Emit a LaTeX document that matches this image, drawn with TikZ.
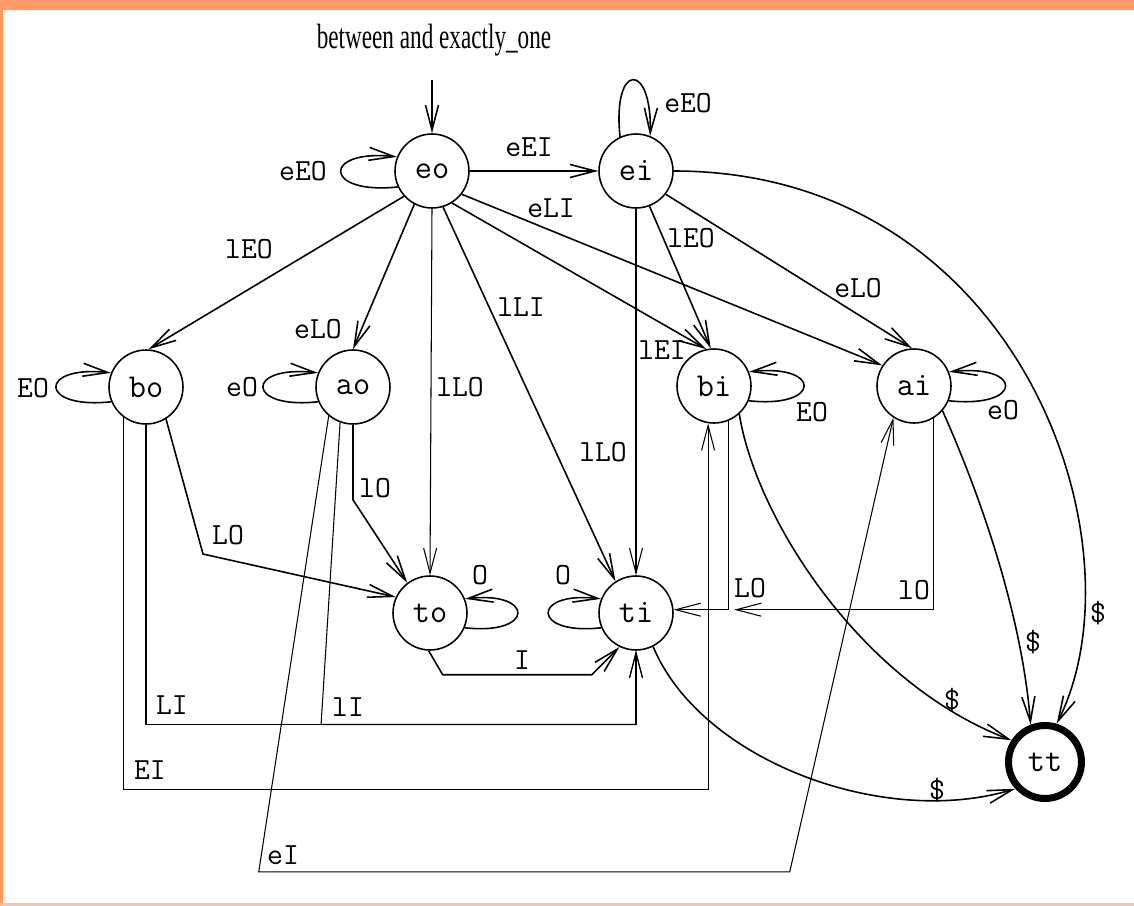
\documentclass[tikz,border=0pt]{standalone}
\usepackage{fontspec}
\setmainfont{Liberation Serif}
\usetikzlibrary{arrows.meta,calc}
\tikzstyle{line} = [draw, -{Straight Barb[length=.5cm,width=.26cm]}, line width=.9pt, fill=none]
\definecolor{framecol}{RGB}{255,153,102}

\begin{document}
\begin{tikzpicture}[
    x=0.02cm, y=-0.02cm,
    state/.style={
      draw,
      circle,
      minimum size=1.48cm,
      inner sep=0pt,
      line width=.9pt,
      font=\fontsize{19}{19}\selectfont\ttfamily
    },
    final/.style={
      state,
      line width=4pt,
      minimum size=1.46cm
    },
    lbl/.style={
      inner sep=0pt,
      font=\fontsize{17.5}{18}\selectfont\ttfamily
    },
    thinline/.style={
      line,
      line width=.6pt
    }
  ]

  % page frame
  \fill[framecol] (0,0) rectangle (1134,10);
  \fill[framecol] (0,0) rectangle (3,906);
  \fill[framecol!60] (0,903) rectangle (1134,906);
  \useasboundingbox (0,0) rectangle (1134,906);

  \node[font=\fontsize{20}{20}\selectfont] (title) at (434,40) {\scalebox{.66}[1]{between and exactly\_one}};

  % states
  \node[state] (eo) at (432,171) {eo};
  \node[state] (ei) at (636,171) {ei};
  \node[state] (bo) at (146,387) {bo};
  \node[state] (ao) at (353,387) {ao};
  \node[state] (bi) at (714,386) {bi};
  \node[state] (ai) at (914,386) {ai};
  \node[state] (to) at (430,613) {to};
  \node[state] (ti) at (636,613) {ti};
  \node[final] (tt) at (1045,762) {tt};

  \coordinate (start) at (432,80);
  \draw[line] (start) -- (eo.north);

  % self loops
  \draw[line] (eo.205) .. controls +(-75,8) and +(-75,-8) .. (eo.158);
  \draw[line] (ei.115) .. controls +(-8,-75) and +(2,-75) .. (ei.68);
  \draw[line] (bo.203) .. controls +(-73,8) and +(-73,-8) .. (bo.158);
  \draw[line] (ao.203) .. controls +(-73,8) and +(-73,-8) .. (ao.158);
  \draw[line] (bi.337) .. controls +(73,8) and +(73,-8) .. (bi.22);
  \draw[line] (ai.337) .. controls +(75,8) and +(75,-8) .. (ai.22);
  \draw[line] (to.337) .. controls +(70,8) and +(70,-8) .. (to.22);
  \draw[line] (ti.203) .. controls +(-70,8) and +(-70,-8) .. (ti.158);

  % out of eo and ei
  \draw[line] (eo) -- (ei);
  \draw[line] (eo.222) -- (bo.86);
  \draw[line] (eo.242) -- (ao.90);
  \draw[thinline] (eo.south) -- (to.north);
  \draw[line] (eo.287) -- (ti.123);
  \draw[line] (eo.302) -- (bi.102);
  \draw[line] (eo.322) -- (ai.147);
  \draw[line] (ei.291) -- (bi.95);
  \draw[line] (ei.322) -- (ai.93);
  \draw[thinline] (ei.south) -- (ti.north);

  % into tt
  \draw[line] (ei.east) .. controls +(345,0) and +(90,-180) .. (tt.73);
  \draw[line] (bi.312) .. controls +(17,105) and +(-150,-57) .. (tt.147);
  \draw[line] (ai.319) .. controls +(30,67) and +(-10,-122) .. (tt.111);
  \draw[line] (ti.297) .. controls +(47,113) and +(-133,40) .. (tt.222);

  % lower transitions
  \draw[line] (to.268) -- ++(14,24) -- ++(149,0) -- (ti.244);
  \draw[line] (bo.302) -- ++(37,135) -- (to.155);
  \draw[line] (ao.south) -- ++(0,75) -- (to.127);
  \draw[thinline] (bo.south) -- ++(0,300) -| (ti.south);
  \draw[thinline] (ao.250) -- ++(-19,302) -| (ti.south);
  \draw[thinline] (bo.233) -- ++(0,372) -| (bi.261);
  \draw[thinline] (ao.230) -- ++(-70,456) -- ++(531,0) -- (ai.237);
  \draw[thinline] (bi.292) |- (ti.5);
  \draw[thinline] (ai.301) |- ($(bi.292 |- ti.5)+(6,0)$);

  % labels
  \node[lbl] (l-eo-eo) at (303,171) {eEO};
  \node[lbl] (l-eo-ei) at (529,147) {eEI};
  \node[lbl] (l-ei-ei) at (688,103) {eEO};
  \node[lbl] (l-eo-ai) at (551,208) {eLI};
  \node[lbl] (l-eo-bo) at (249,249) {lEO};
  \node[lbl] (l-eo-ao) at (318,329) {eLO};
  \node[lbl] (l-eo-to) at (460,387) {lLO};
  \node[lbl] (l-eo-ti) at (521,307) {lLI};
  \node[lbl] (l-eo-bi) at (662,350) {lEI};
  \node[lbl] (l-ei-bi) at (691,238) {lEO};
  \node[lbl] (l-ei-ai) at (858,288) {eLO};
  \node[lbl] (l-ei-ti) at (603,452) {lLO};
  \node[lbl] (l-bo-bo) at (33,388) {EO};
  \node[lbl] (l-ao-ao) at (242,387) {eO};
  \node[lbl] (l-bi-bi) at (812,412) {EO};
  \node[lbl] (l-ai-ai) at (1003,410) {eO};
  \node[lbl] (l-bo-to) at (228,535) {LO};
  \node[lbl] (l-ao-to) at (375,488) {lO};
  \node[lbl] (l-to-to) at (480,575) {O};
  \node[lbl] (l-ti-ti) at (563,575) {O};
  \node[lbl] (l-to-ti) at (522,660) {I};
  \node[lbl] (l-bo-ti) at (172,705) {LI};
  \node[lbl] (l-ao-ti) at (348,707) {lI};
  \node[lbl] (l-bo-bi) at (150,770) {EI};
  \node[lbl] (l-ao-ai) at (283,855) {eI};
  \node[lbl] (l-bi-ti) at (750,588) {LO};
  \node[lbl] (l-ai-ti) at (914,590) {lO};
  \node[lbl] (l-ei-tt) at (1098,613) {\$};
  \node[lbl] (l-ai-tt) at (1033,642) {\$};
  \node[lbl] (l-bi-tt) at (952,700) {\$};
  \node[lbl] (l-ti-tt) at (937,790) {\$};

\end{tikzpicture}
\end{document}
